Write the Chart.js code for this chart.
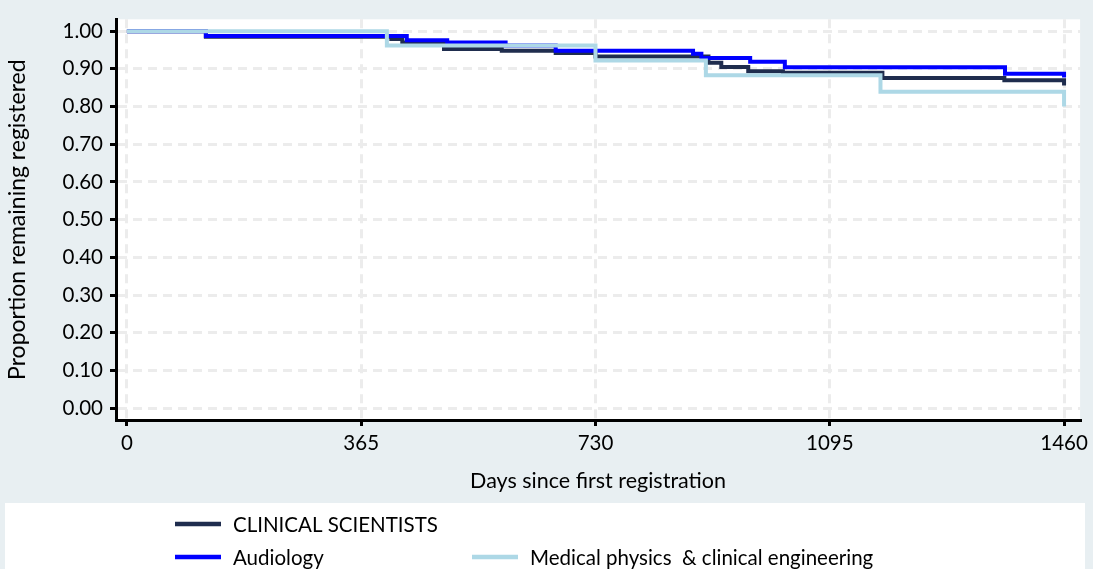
<!DOCTYPE html>
<html>
<head>
<meta charset="utf-8">
<script src="https://cdn.jsdelivr.net/npm/chart.js@4"></script>
<style>
  body { margin: 0; background: #e8eff2; }
  #wrap { width: 1093px; height: 569px; position: relative; }
</style>
</head>
<body>
<div id="wrap"><canvas id="km"></canvas></div>
<script>
// Kaplan-Meier style curves
const seriesNames = ['CLINICAL SCIENTISTS', 'Audiology', 'Medical physics  & clinical engineering'];

const clinicalDays = [0, 123, 412, 429, 494, 584, 668, 730, 906, 926, 968, 1022, 1177, 1367, 1460];
const clinicalSurv = [1.0, 0.985, 0.979, 0.970, 0.953, 0.948, 0.942, 0.933, 0.916, 0.905, 0.894, 0.890, 0.876, 0.870, 0.856];

const audioDays = [0, 123, 436, 499, 590, 668, 882, 895, 971, 1025, 1368, 1460];
const audioSurv = [1.0, 0.987, 0.976, 0.970, 0.962, 0.948, 0.940, 0.929, 0.919, 0.904, 0.887, 0.877];

const medphysDays = [0, 405, 730, 902, 1174, 1460];
const medphysSurv = [1.0, 0.962, 0.922, 0.883, 0.839, 0.800];

const xTicks = [0, 365, 730, 1095, 1460];
const xTickLabels = ['0', '365', '730', '1095', '1460'];
const yTicks = [0, 0.1, 0.2, 0.3, 0.4, 0.5, 0.6, 0.7, 0.8, 0.9, 1.0];
const yTickLabels = ['0.00', '0.10', '0.20', '0.30', '0.40', '0.50', '0.60', '0.70', '0.80', '0.90', '1.00'];

const colors = ['#1f2d4e', '#0000ff', '#add8e6'];
const FONT = 'Lato, "Open Sans", sans-serif';

function pts(days, surv) {
  return days.map((d, i) => ({ x: d, y: surv[i] }));
}

const plotBg = {
  id: 'plotBg',
  beforeDraw(chart) {
    const { ctx, chartArea: a } = chart;
    ctx.save();
    ctx.fillStyle = '#fff';
    ctx.fillRect(a.left, a.top, a.right - a.left, a.bottom - a.top);
    ctx.restore();
  }
};

// legend laid out like the original (two rows, second row two columns)
const boxLegend = {
  id: 'boxLegend',
  afterDraw(chart) {
    const ctx = chart.ctx;
    const slots = [[175, 524], [175, 557], [472, 557]];
    ctx.save();
    ctx.fillStyle = '#fff';
    ctx.fillRect(5, 503, 1080, 66);
    ctx.font = '20.5px ' + FONT;
    ctx.textBaseline = 'middle';
    chart.data.datasets.forEach((ds, i) => {
      const [x, y] = slots[i];
      ctx.strokeStyle = ds.borderColor;
      ctx.lineWidth = 4.5;
      ctx.beginPath();
      ctx.moveTo(x, y);
      ctx.lineTo(x + 46, y);
      ctx.stroke();
      ctx.fillStyle = '#000';
      ctx.fillText(ds.label, x + 58, y + 1);
    });
    ctx.restore();
  }
};

const grid = {
  color: '#ececec',
  lineWidth: 3,
  tickColor: '#000',
  tickWidth: 3,
  tickLength: 6,
  tickBorderDash: []
};
const border = { color: '#000', width: 3, dash: [9, 6] };

new Chart(document.getElementById('km'), {
  type: 'line',
  data: {
    datasets: [
      // light blue on top, navy at the bottom
      { label: seriesNames[0], data: pts(clinicalDays, clinicalSurv), borderColor: colors[0], order: 3 },
      { label: seriesNames[1], data: pts(audioDays, audioSurv), borderColor: colors[1], order: 2 },
      { label: seriesNames[2], data: pts(medphysDays, medphysSurv), borderColor: colors[2], order: 1 }
    ].map(d => Object.assign(d, { stepped: 'before', borderWidth: 4, pointRadius: 0, fill: false }))
  },
  plugins: [plotBg, boxLegend],
  options: {
    responsive: true,
    maintainAspectRatio: false,
    animation: false,
    layout: { padding: { top: 15, right: 10, bottom: 69, left: 0 } },
    plugins: { legend: { display: false }, tooltip: { enabled: false } },
    scales: {
      x: {
        type: 'linear',
        min: -17,
        max: 1485,
        afterBuildTicks: s => { s.ticks = xTicks.map(v => ({ value: v })); },
        afterFit: s => { s.height = 80; },
        ticks: { color: '#000', font: { family: FONT, size: 20.5 }, padding: 5, maxRotation: 0,
                 callback: (v, i) => xTickLabels[i] },
        grid: grid,
        border: border,
        title: { display: true, text: 'Days since first registration', color: '#000',
                 font: { family: FONT, size: 21.5 }, padding: { top: 0, bottom: 6 } }
      },
      y: {
        min: -0.0315,
        max: 1.0315,
        afterBuildTicks: s => { s.ticks = yTicks.map(v => ({ value: v })); },
        afterFit: s => { s.width = 116; },
        ticks: { color: '#000', font: { family: FONT, size: 20.5 }, padding: 7,
                 callback: (v, i) => yTickLabels[i] },
        grid: grid,
        border: border,
        title: { display: true, text: 'Proportion remaining registered', color: '#000',
                 font: { family: FONT, size: 23 }, padding: { top: 4, bottom: 0 } }
      }
    }
  }
});
</script>
</body>
</html>
